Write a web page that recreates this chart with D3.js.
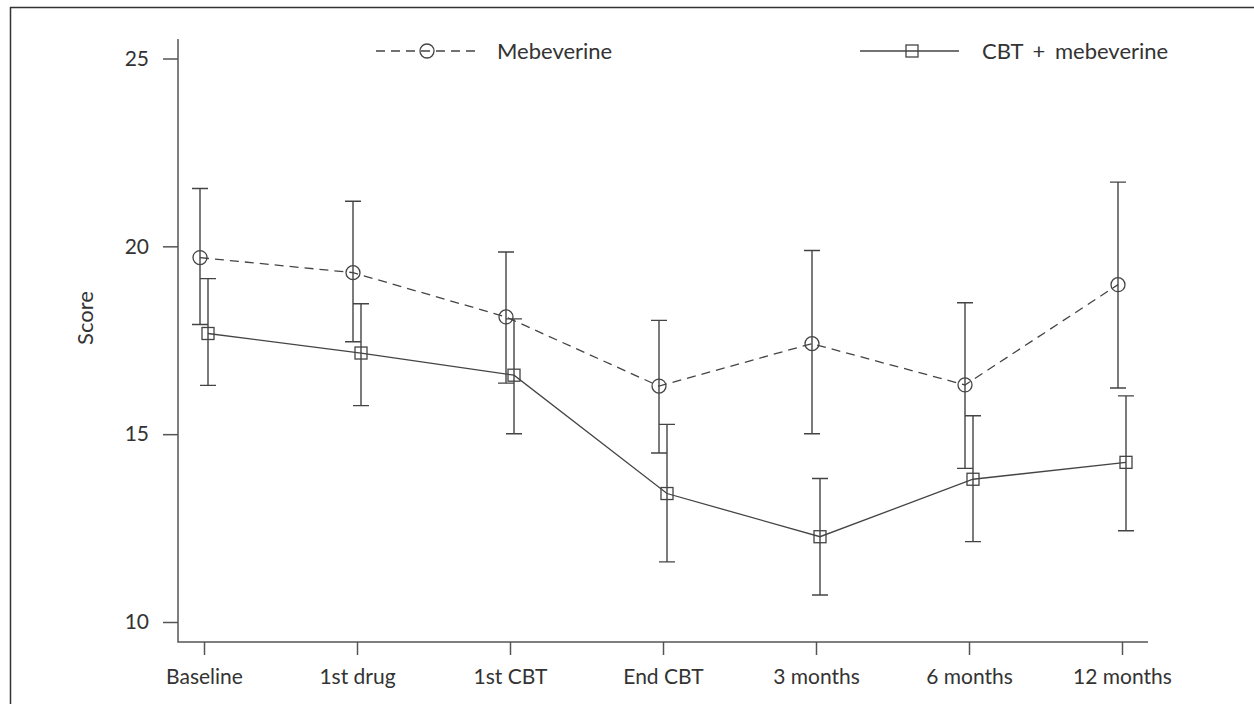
<!DOCTYPE html>
<html>
<head>
<meta charset="utf-8">
<script src="https://cdn.jsdelivr.net/npm/d3@7"></script>
<style>
  body { margin: 0; background: #fff; }
  svg { display: block; }
  text { font-family: Lato, "Open Sans", sans-serif; fill: #333; }
</style>
</head>
<body>
<div id="svg-container"></div>
<script>
// timepoints along the x axis
const categories = ['Baseline', '1st drug', '1st CBT', 'End CBT', '3 months', '6 months', '12 months'];

// mebeverine alone: mean score with lower / upper error bar
const mebMean = [19.70, 19.30, 18.12, 16.28, 17.41, 16.31, 18.98];
const mebLow = [17.92, 17.46, 16.36, 14.50, 15.01, 14.09, 16.23];
const mebHigh = [21.54, 21.20, 19.85, 18.03, 19.89, 18.50, 21.71];

// CBT + mebeverine
const cbtMean = [17.68, 17.16, 16.57, 13.42, 12.27, 13.80, 14.25];
const cbtLow = [16.30, 15.76, 15.01, 11.60, 10.72, 12.14, 12.43];
const cbtHigh = [19.14, 18.47, 18.07, 15.26, 13.82, 15.49, 16.02];

const yTicks = [10, 15, 20, 25];
const seriesNames = ['Mebeverine', 'CBT + mebeverine'];

const svgWidth = 1254;
const svgHeight = 704;
const ink = '#444';

const svg = d3.select('#svg-container')
.append('svg')
.attr('width', svgWidth)
.attr('height', svgHeight);

// outer frame (runs off the right and bottom of the picture)
svg.append('path')
.attr('d', 'M10.5,704 V7.5 H1254')
.attr('fill', 'none')
.attr('stroke', '#333')
.attr('stroke-width', 1.5);

const x = d3.scalePoint()
.domain(categories)
.range([204, 1122]);

const y = d3.scaleLinear()
.domain([10, 25])
.range([622, 58.5]);

const axisX = 178;
const axisY = 642;

// y axis
const gy = svg.append('g')
.attr('transform', `translate(${axisX},0)`)
.call(d3.axisLeft(y).tickValues(yTicks).tickSize(15).tickPadding(14));
gy.select('.domain').remove();
gy.selectAll('.tick line').attr('stroke', '#555').attr('stroke-width', 1.5);
gy.selectAll('.tick text').attr('font-size', 21).attr('font-family', 'Lato').attr('fill', '#333');

// x axis
const gx = svg.append('g')
.attr('transform', `translate(0,${axisY})`)
.call(d3.axisBottom(x).tickSize(13).tickPadding(14));
gx.select('.domain').remove();
gx.selectAll('.tick line').attr('stroke', '#555').attr('stroke-width', 1.5);
gx.selectAll('.tick text').attr('font-size', 21).attr('font-family', 'Lato').attr('fill', '#333');

// axis lines
svg.append('path')
.attr('d', `M${axisX},39 V${axisY} H1148`)
.attr('fill', 'none')
.attr('stroke', '#555')
.attr('stroke-width', 1.5);

// y title
svg.append('text')
.attr('transform', 'translate(93,318) rotate(-90)')
.attr('text-anchor', 'middle')
.attr('font-size', 22)
.text('Score');

const series = [
    {name: seriesNames[0], mean: mebMean, low: mebLow, high: mebHigh, dx: -4, dash: '9,6', marker: 'circle'},
    {name: seriesNames[1], mean: cbtMean, low: cbtLow, high: cbtHigh, dx: 4, dash: null, marker: 'square'}
];

const drawMarker = (g, type, cx, cy) => {
    if (type === 'circle') {
        g.append('circle')
        .attr('cx', cx).attr('cy', cy).attr('r', 7)
        .attr('fill', 'none').attr('stroke', ink).attr('stroke-width', 1.3);
    } else {
        g.append('rect')
        .attr('x', cx - 6).attr('y', cy - 6)
        .attr('width', 12).attr('height', 12)
        .attr('fill', 'none').attr('stroke', ink).attr('stroke-width', 1.3);
    }
};

series.forEach((s) => {
    const g = svg.append('g');
    const px = (i) => x(categories[i]) + s.dx;

    // error bars
    categories.forEach((c, i) => {
        const xi = px(i);
        g.append('path')
        .attr('d', `M${xi},${y(s.low[i])} V${y(s.high[i])} M${xi - 8},${y(s.low[i])} H${xi + 8} M${xi - 8},${y(s.high[i])} H${xi + 8}`)
        .attr('fill', 'none')
        .attr('stroke', ink)
        .attr('stroke-width', 1.4);
    });

    // mean line
    const line = d3.line()
    .x((d, i) => px(i))
    .y((d) => y(d));
    g.append('path')
    .datum(s.mean)
    .attr('d', line)
    .attr('fill', 'none')
    .attr('stroke', ink)
    .attr('stroke-width', 1.3)
    .attr('stroke-dasharray', s.dash);

    s.mean.forEach((v, i) => drawMarker(g, s.marker, px(i), y(v)));
});

// legend
const legend = [
    {x0: 376, x1: 478, mx: 427, tx: 497},
    {x0: 860, x1: 959, mx: 912, tx: 982}
];
series.forEach((s, i) => {
    const l = legend[i];
    const g = svg.append('g');
    g.append('line')
    .attr('x1', l.x0).attr('x2', l.x1)
    .attr('y1', 51).attr('y2', 51)
    .attr('stroke', ink)
    .attr('stroke-width', 1.3)
    .attr('stroke-dasharray', s.dash);
    drawMarker(g, s.marker, l.mx, 51);
    g.append('text')
    .attr('x', l.tx)
    .attr('y', 58.5)
    .attr('font-size', 22)
    .attr('word-spacing', 4)
    .text(s.name);
});
</script>
</body>
</html>
